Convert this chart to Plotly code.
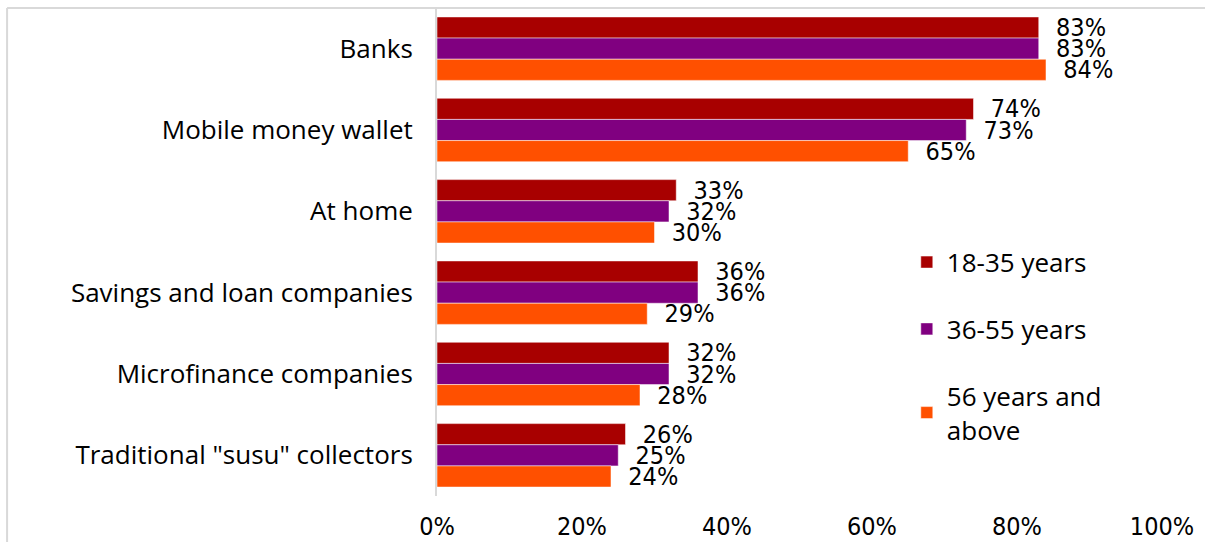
import plotly.graph_objects as go

categories = ["Banks", "Mobile money wallet", "At home", "Savings and loan companies",
              "Microfinance companies", "Traditional \"susu\" collectors"]
age_18_35 = [83, 74, 33, 36, 32, 26]
age_36_55 = [83, 73, 32, 36, 32, 25]
age_56_up = [84, 65, 30, 29, 28, 24]
series_names = ["18-35 years", "36-55 years", "56 years and<br>above"]
colors = ["#A80000", "#800080", "#FF5000"]
x_ticks = [0, 20, 40, 60, 80, 100]
x_tick_text = ["0%", "20%", "40%", "60%", "80%", "100%"]

MAIN_FONT = "Century Gothic, Open Sans, sans-serif"
NARROW_FONT = "Liberation Sans Narrow, DejaVu Sans Condensed, sans-serif"

fig = go.Figure()
for i, (name, vals, col) in enumerate(zip(series_names, [age_18_35, age_36_55, age_56_up], colors)):
    fig.add_trace(go.Bar(
        y=categories, x=vals, name=name, orientation="h",
        marker=dict(color=col, line=dict(color="rgba(255,255,255,0.5)", width=1)),
        text=[f"\u00a0\u00a0{v}%" for v in vals], textposition="outside",
        texttemplate="%{text}",
        textfont=dict(family=NARROW_FONT, size=25, color="#000000"),
        constraintext="none", cliponaxis=False,
        legendgroup=f"g{i}",
        hoverinfo="skip",
    ))

fig.update_layout(
    width=1205, height=542,
    margin=dict(l=437, r=43, t=8, b=46, autoexpand=False),
    paper_bgcolor="white", plot_bgcolor="white",
    barmode="group", bargap=0.22, bargroupgap=0,
    font=dict(family=MAIN_FONT, size=26, color="#000000"),
    showlegend=True,
    legend=dict(
        x=0.648, y=0.307, xanchor="left", yanchor="middle",
        traceorder="grouped", tracegroupgap=30,
        font=dict(family=MAIN_FONT, size=26, color="#000000"),
        itemwidth=30, bgcolor="rgba(0,0,0,0)",
    ),
    xaxis=dict(
        range=[0, 100], tickmode="array", tickvals=x_ticks, ticktext=x_tick_text,
        showgrid=False, zeroline=False, showline=False, automargin=False,
        tickfont=dict(family=NARROW_FONT, size=25),
        ticks="", ticklabelstandoff=13,
    ),
    yaxis=dict(
        autorange="reversed", showgrid=False, zeroline=False, automargin=False,
        showline=True, linecolor="#D9D9D9", linewidth=2,
        ticks="", ticklabelstandoff=17,
        tickfont=dict(family=MAIN_FONT, size=26),
    ),
    shapes=[
        dict(type="line", xref="paper", yref="paper", x0=-0.593, x1=1.2, y0=1.0, y1=1.0,
             line=dict(color="#D9D9D9", width=2)),
        dict(type="line", xref="paper", yref="paper", x0=-0.593, x1=-0.593, y0=1.0, y1=-0.2,
             line=dict(color="#D9D9D9", width=2)),
    ],
)

fig.write_html("out.html", config={"displayModeBar": False},
               post_script="document.body.style.margin='0';")
